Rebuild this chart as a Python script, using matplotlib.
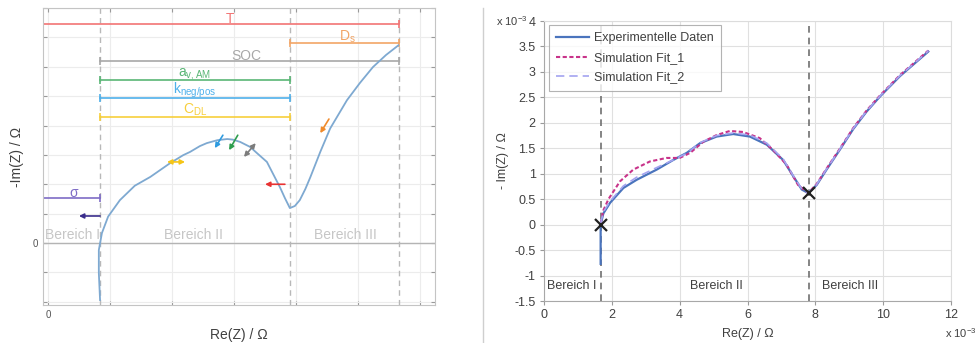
import matplotlib
matplotlib.use("Agg")
import matplotlib.pyplot as plt

plt.rcParams["font.family"] = ["Liberation Sans", "DejaVu Sans"]
plt.rcParams["mathtext.default"] = "regular"

W, H = 976, 343

# ---- left panel: schematic Nyquist curve ----
schema_x = [0.84, 0.82, 0.82, 0.87, 0.97, 1.16, 1.40, 1.65, 1.97, 2.18, 2.29, 2.45, 2.56,
            2.73, 2.89, 2.98, 3.10, 3.26, 3.37, 3.53, 3.63, 3.74, 3.82, 3.90, 3.98, 4.06,
            4.15, 4.23, 4.39, 4.55, 4.82, 5.03, 5.24, 5.45, 5.65]
schema_y = [-1.94, -1.02, -0.24, 0.34, 0.90, 1.46, 1.95, 2.25, 2.72, 2.99, 3.10, 3.30, 3.40,
            3.50, 3.54, 3.52, 3.44, 3.27, 3.06, 2.76, 2.35, 1.90, 1.53, 1.19, 1.26, 1.46,
            1.84, 2.24, 3.10, 3.90, 4.86, 5.45, 5.99, 6.40, 6.73]

region_bounds = [0.84, 3.90, 5.66]

# name, x_start, x_end, y, colour
param_ranges = [
    ("T", -0.08, 5.66, 7.45, "#f27474"),
    ("D$_{s}$", 3.90, 5.66, 6.80, "#f2a566"),
    ("SOC", 0.84, 5.66, 6.19, "#a8a8a8"),
    ("a$_{v,AM}$", 0.84, 3.90, 5.54, "#5ab676"),
    ("k$_{neg/pos}$", 0.84, 3.90, 4.93, "#4fb0ea"),
    ("C$_{DL}$", 0.84, 3.90, 4.29, "#f7cf3c"),
    ("σ", -0.08, 0.84, 1.53, "#7e6cc6"),
]
label_x = [2.94, 4.82, 3.20, 2.37, 2.37, 2.37, 0.42]

# arrows: start x, start y, end x, end y, colour, double-headed
effect_arrows = [
    (0.84, 0.92, 0.50, 0.92, "#3a2d8c", False),
    (1.92, 2.76, 2.21, 2.76, "#f5c518", True),
    (2.82, 3.67, 2.69, 3.23, "#2e9be0", False),
    (3.06, 3.67, 2.92, 3.16, "#2e9e4e", False),
    (3.16, 2.93, 3.35, 3.40, "#7c7c7c", True),
    (3.82, 2.00, 3.50, 2.00, "#e83232", False),
    (4.53, 4.22, 4.39, 3.74, "#f08a2a", False),
]

regions_left = ["Bereich I", "Bereich II", "Bereich III"]
regions_left_x = [0.39, 2.34, 4.79]

# ---- right panel: measured vs fitted (x 1e-3) ----
exp_x = [1.67, 1.67, 1.67, 1.75, 1.95, 2.34, 2.73, 3.32, 3.81, 4.21, 4.60, 5.09, 5.58,
         6.07, 6.57, 7.05, 7.35, 7.60, 7.79, 8.04, 8.33, 8.73, 9.12, 9.51, 9.91, 10.50,
         11.28, 11.33]
exp_y = [-0.77, -0.40, 0.00, 0.22, 0.43, 0.72, 0.88, 1.08, 1.27, 1.41, 1.60, 1.73, 1.78,
         1.73, 1.57, 1.27, 0.95, 0.69, 0.62, 0.78, 1.08, 1.48, 1.88, 2.22, 2.52, 2.92,
         3.37, 3.40]

fit1_x = [1.67, 1.75, 1.90, 2.24, 2.63, 3.12, 3.61, 4.00, 4.31, 4.70, 5.09, 5.48, 5.87,
          6.36, 6.75, 7.15, 7.49, 7.79, 8.04, 8.33, 8.73, 9.12, 9.51, 9.91, 10.50, 11.28,
          11.33]
fit1_y = [0.02, 0.28, 0.50, 0.85, 1.08, 1.24, 1.31, 1.31, 1.41, 1.63, 1.76, 1.84, 1.82,
          1.70, 1.47, 1.18, 0.78, 0.62, 0.80, 1.10, 1.50, 1.90, 2.24, 2.54, 2.94, 3.39,
          3.42]

fit2_x = [1.67, 1.75, 1.95, 2.34, 2.73, 3.32, 3.81, 4.21, 4.60, 5.09, 5.58, 6.07, 6.57,
          7.05, 7.35, 7.60, 7.79, 8.04, 8.33, 8.73, 9.12, 9.51, 9.91, 10.50, 11.28, 11.33]
fit2_y = [0.02, 0.25, 0.46, 0.76, 0.93, 1.12, 1.27, 1.40, 1.61, 1.75, 1.80, 1.76, 1.60,
          1.29, 0.96, 0.70, 0.62, 0.79, 1.09, 1.49, 1.89, 2.23, 2.53, 2.93, 3.38, 3.42]

boundary_x = [1.67, 7.82]
boundary_y = [0.0, 0.62]

regions_right = ["Bereich I", "Bereich II", "Bereich III"]
regions_right_x = [0.83, 5.07, 9.03]
regions_right_y = -1.21


def px_box(x0, y0, x1, y1):
    return [x0 / W, 1 - y1 / H, (x1 - x0) / W, (y1 - y0) / H]


fig = plt.figure(figsize=(W / 100, H / 100), dpi=100)
fig.patch.set_facecolor("white")

# ---------------- left ----------------
ax = fig.add_axes(px_box(43, 8, 435, 305))
ax.set_xlim(-0.08, 6.24)
ax.set_ylim(-2.11, 7.99)
ax.set_xticks(range(0, 7))
ax.set_yticks(range(-2, 9))
ax.set_xticklabels(["0"] + [""] * 6)
ax.set_yticklabels(["", "", "0"] + [""] * 8)
ax.tick_params(direction="in", length=3, color="#9a9a9a", labelsize=7,
               labelcolor="#555555", top=True, right=True)
ax.grid(True, color="#ececec", linewidth=0.8)
ax.set_axisbelow(True)
for s in ax.spines.values():
    s.set_color("#c4c4c4")
ax.axhline(0, color="#b4b4b4", linewidth=1.0)

for xb in region_bounds:
    ax.axvline(xb, color="#b8b8b8", linestyle=(0, (4, 3)), linewidth=1.0)

for (name, x0, x1, y, c), lx in zip(param_ranges, label_x):
    ax.plot([x0, x1], [y, y], color=c, linewidth=1.2)
    ax.plot([x0, x1], [y, y], linestyle="none", marker="|", markersize=6,
            markeredgewidth=1.2, color=c)
    ax.text(lx, y - 0.05, name, color=c, fontsize=10, ha="center", va="bottom")

ax.plot(schema_x, schema_y, color="#7ea9d1", linewidth=1.3)

for x0, y0, x1, y1, c, both in effect_arrows:
    style = "<|-|>" if both else "-|>"
    ax.annotate("", xy=(x1, y1), xytext=(x0, y0),
                arrowprops=dict(arrowstyle=style, color=c, lw=1.2,
                                mutation_scale=7, shrinkA=0, shrinkB=0))

for name, x in zip(regions_left, regions_left_x):
    ax.text(x, 0.02, name, color="#c6c6c6", fontsize=10, ha="center", va="bottom")

ax.set_xlabel("Re(Z) / Ω", fontsize=10, color="#404040", labelpad=6)
ax.set_ylabel("-Im(Z) / Ω", fontsize=10, color="#404040", labelpad=6)

# divider
fig.add_artist(plt.Line2D([483 / W, 483 / W], [0, 1 - 8 / H],
                          color="#cfcfcf", linewidth=1.0))

# ---------------- right ----------------
ax2 = fig.add_axes(px_box(544, 21, 951, 301))
ax2.set_xlim(0, 12)
ax2.set_ylim(-1.5, 4)
ax2.set_xticks(range(0, 13, 2))
ax2.set_yticks([-1.5 + 0.5 * i for i in range(12)])
ax2.set_yticklabels([f"{-1.5 + 0.5 * i:g}" for i in range(12)])
ax2.tick_params(direction="out", length=3, color="#9a9a9a", labelsize=9,
                labelcolor="#404040", pad=3)
ax2.grid(True, color="#e0e0e0", linewidth=0.8)
ax2.set_axisbelow(True)
for side, s in ax2.spines.items():
    s.set_color("#a8a8a8" if side in ("left", "bottom") else "#dcdcdc")

for xb in boundary_x:
    ax2.axvline(xb, color="#707070", linestyle=(0, (4, 3)), linewidth=1.2)

ax2.plot(exp_x, exp_y, color="#4a74bd", linewidth=1.6, label="Experimentelle Daten")
ax2.plot(fit1_x, fit1_y, color="#c8338a", linewidth=1.5, linestyle=(0, (2, 1.2)),
         label="Simulation Fit_1")
ax2.plot(fit2_x, fit2_y, color="#a3a3f0", linewidth=1.2, linestyle=(0, (5, 3)),
         label="Simulation Fit_2")
ax2.plot(boundary_x, boundary_y, linestyle="none", marker="x", markersize=8,
         markeredgewidth=1.6, color="#202020")

for name, x in zip(regions_right, regions_right_x):
    ax2.text(x, regions_right_y, name, color="#404040", fontsize=9,
             ha="center", va="center")

leg = ax2.legend(loc="upper left", bbox_to_anchor=(0.012, 0.986), borderaxespad=0,
                 fontsize=9, fancybox=False, handlelength=2.6, labelspacing=0.6,
                 borderpad=0.6, handletextpad=0.4)
leg.get_frame().set_edgecolor("#a0a0a0")
leg.get_frame().set_linewidth(0.8)
for t in leg.get_texts():
    t.set_color("#404040")

ax2.set_xlabel("Re(Z) / Ω", fontsize=9, color="#404040", labelpad=5)
ax2.set_ylabel("- Im(Z) / Ω", fontsize=9, color="#404040", labelpad=4)

fig.text(528 / W, 1 - 21 / H, "x 10$^{-3}$", fontsize=8, color="#404040",
         ha="right", va="center")
fig.text(945 / W, 1 - 333 / H, "x 10$^{-3}$", fontsize=8, color="#404040",
         ha="left", va="center")

fig.savefig("out.png", dpi=100)
